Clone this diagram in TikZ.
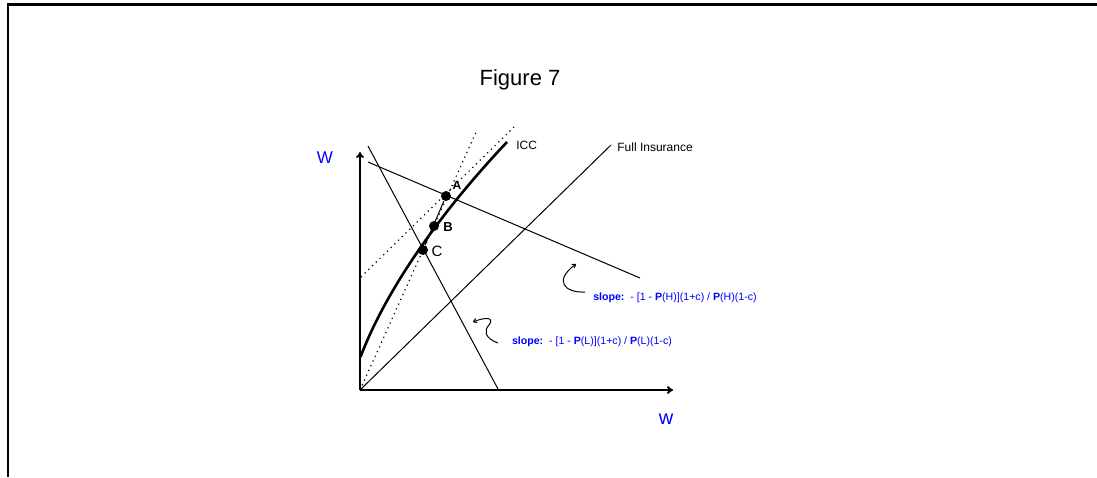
\documentclass[tikz,border=0pt]{standalone}
\usepackage{fontspec}
\setmainfont{Liberation Sans}
\usetikzlibrary{arrows.meta}

\tikzset{
  axis/.style={line width=1pt, -{To[length=3pt, width=4pt]}},
  budget/.style={line width=0.5pt},
  ray/.style={line width=0.6pt, dotted},
  dot/.style={circle, fill=black, inner sep=0pt, minimum size=5pt},
  lab/.style={font=\fontsize{6}{7}\selectfont, inner sep=0pt},
  slopetxt/.style={text=blue, font=\fontsize{5.3}{6}\selectfont, inner sep=0pt},
  hook/.style={line width=0.5pt, -{To[length=2pt, width=2.5pt]}}
}

\begin{document}
\begin{tikzpicture}[x=.5pt, y=-.5pt]
      \useasboundingbox (0,0) rectangle (1097,477);
      % frame
      \draw[line width=1.5pt] (7,4.5) -- (1097,4.5);
      \draw[line width=1pt] (8,4) -- (8,477);
      \node (title) at (520,80) {\fontsize{11}{12}\selectfont Figure 7};
      % axes
      \coordinate (O) at (360,390);
      \coordinate (ytop) at (360,152);
      \coordinate (xend) at (673,390);
      \draw[axis] (O) -- (ytop);
      \draw[axis] (O) -- (xend);
      \node[text=blue, font=\fontsize{8.5}{9}\selectfont] (Wlab) at (325,158) {W};
      \node[text=blue, font=\fontsize{10}{10}\selectfont] (wlab) at (666,419) {w};
      % full insurance
      \coordinate (fi) at (611,145);
      \draw[budget] (O) -- (fi);
      \node[lab, anchor=west] (fitxt) at (617,147) {Full Insurance};
      % zero profit lines
      \coordinate (lt) at (368,146);
      \coordinate (lb) at (498,389);
      \coordinate (ht) at (368,162);
      \coordinate (hb) at (640,278);
      \draw[budget] (lt) -- (lb);
      \draw[budget] (ht) -- (hb);
      % dotted rays
      \coordinate (r1) at (477,130);
      \coordinate (r2a) at (361,277);
      \coordinate (r2b) at (514,127);
      \draw[ray] (O) -- (r1);
      \draw[ray] (r2a) -- (r2b);
      % ICC
      \coordinate (icc0) at (360.5,357);
      \coordinate (icc1) at (507,142);
      \draw[line width=1.3pt] (icc0) .. controls (385,292) and (438,215) .. (icc1);
      \node[lab, anchor=west] (icc) at (516,145) {ICC};
      % contracts
      \node[dot] (A) at (446,196) {};
      \node[dot] (B) at (434,226) {};
      \node[dot] (C) at (423,250) {};
      \draw[budget] (A) -- (C);
      \node[lab, font=\bfseries\fontsize{6}{7}\selectfont] (Alab) at (457,185) {A};
      \node[lab, font=\bfseries\fontsize{6.5}{7}\selectfont] (Blab) at (448,227) {B};
      \node[lab, font=\fontsize{7.5}{8}\selectfont] (Clab) at (437,251) {C};
      % slopes
      \node[slopetxt] (sH) at (675,298) {\textbf{slope:}~~- [1 - \textbf{P}(H)](1+c) / \textbf{P}(H)(1-c)};
      \node[slopetxt] (sL) at (592,342) {\textbf{slope:}~~- [1 - \textbf{P}(L)](1+c) / \textbf{P}(L)(1-c)};
      \coordinate (hH0) at (585,292);
      \coordinate (hH1) at (576,264);
      \draw[hook] (hH0) .. controls (565,293) and (553,281) .. (hH1);
      \coordinate (hL0) at (498,343);
      \coordinate (hL1) at (473,322);
      \draw[hook] (hL0) .. controls (484,338) and (484,330) .. (489,325) .. controls (495,317) and (485,317) .. (hL1);
    \end{tikzpicture}
\end{document}
